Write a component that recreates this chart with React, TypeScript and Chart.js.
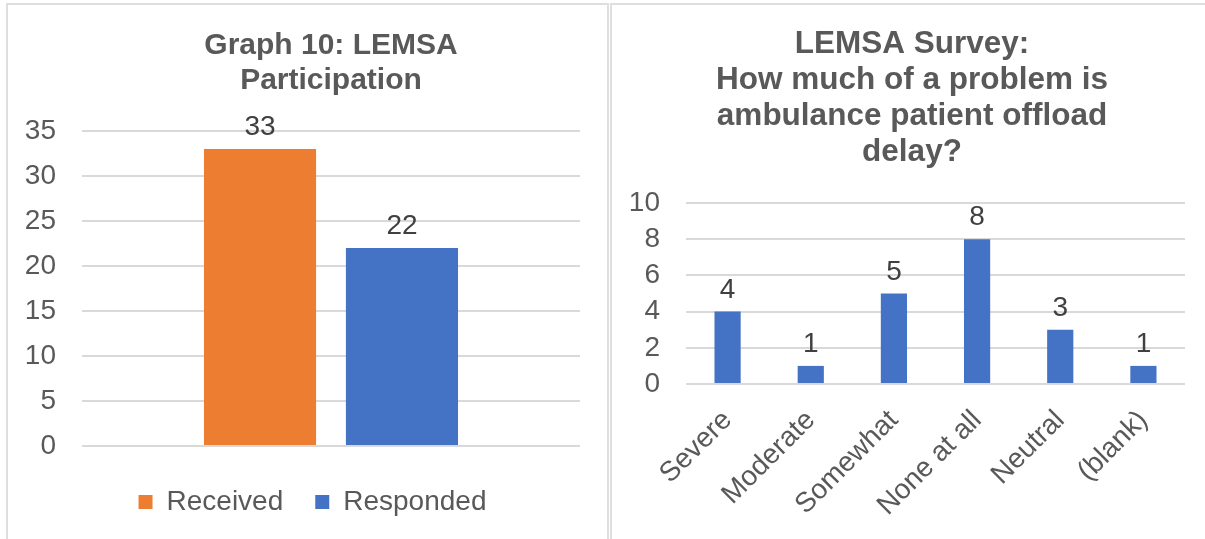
import React, { useEffect, useRef } from "react";
import { Chart, registerables } from "chart.js";

Chart.register(...registerables);

const FONT = '"Liberation Sans", Arial, Helvetica, sans-serif';
const TITLE_COLOR = "#595959";
const TICK_COLOR = "#595959";
const LABEL_COLOR = "#404040";
const GRID_COLOR = "#d9d9d9";

// ---- Left chart: Graph 10 ----
const participationTitle = ["Graph 10: LEMSA", "Participation"];
const participationCategories = [""];
const participationSeries = ["Received", "Responded"];
const receivedValues = [33];
const respondedValues = [22];
const participationColors = ["#ED7D31", "#4472C4"];
const participationYTicks = [0, 5, 10, 15, 20, 25, 30, 35];

// ---- Right chart: LEMSA Survey ----
const offloadTitle = [
  "LEMSA Survey:",
  "How much of a problem is",
  "ambulance patient offload",
  "delay?",
];
const offloadCategories = ["Severe", "Moderate", "Somewhat", "None at all", "Neutral", "(blank)"];
const offloadCounts = [4, 1, 5, 8, 3, 1];
const offloadColor = "#4472C4";
const offloadYTicks = [0, 2, 4, 6, 8, 10];

const valueLabelPlugin = {
  id: "valueLabels",
  afterDatasetsDraw(chart: any) {
    const ctx = chart.ctx;
    ctx.save();
    ctx.font = `28px ${FONT}`;
    ctx.fillStyle = LABEL_COLOR;
    ctx.textAlign = "center";
    ctx.textBaseline = "alphabetic";
    chart.data.datasets.forEach((ds: any, i: number) => {
      const meta = chart.getDatasetMeta(i);
      meta.data.forEach((el: any, j: number) => {
        ctx.fillText(String(ds.data[j]), el.x, el.y - 14);
      });
    });
    ctx.restore();
  },
};

// an empty right-hand axis used only as a margin, so that full-width boxes stay centred
const spacerAxis = (w: number) => ({
  position: "right",
  display: true,
  grid: { display: false, drawTicks: false },
  border: { display: false },
  ticks: { display: false },
  afterFit: (s: any) => {
    s.width = w;
  },
});

function ChartCanvas({ config, style, width, height }: any) {
  const ref = useRef<HTMLCanvasElement | null>(null);
  useEffect(() => {
    if (!ref.current) return;
    const chart = new Chart(ref.current, config);
    return () => chart.destroy();
  }, []);
  return (
    <canvas
      ref={ref}
      width={width}
      height={height}
      style={{ position: "absolute", width, height, ...style }}
    />
  );
}

export default function App() {
  const leftStep = participationYTicks[1] - participationYTicks[0];
  const rightStep = offloadYTicks[1] - offloadYTicks[0];

  const leftConfig: any = {
    type: "bar",
    data: {
      labels: participationCategories,
      datasets: [
        {
          label: participationSeries[0],
          data: receivedValues,
          backgroundColor: participationColors[0],
          categoryPercentage: 0.57,
          barPercentage: 0.79,
        },
        {
          label: participationSeries[1],
          data: respondedValues,
          backgroundColor: participationColors[1],
          categoryPercentage: 0.57,
          barPercentage: 0.79,
        },
      ],
    },
    options: {
      animation: false,
      responsive: false,
      maintainAspectRatio: false,
      layout: { padding: 0 },
      plugins: {
        title: {
          display: true,
          text: participationTitle,
          fullSize: false,
          color: TITLE_COLOR,
          font: { family: FONT, size: 30, weight: "bold", lineHeight: 35 / 30 },
          padding: { top: 24, bottom: 33 },
        },
        legend: {
          position: "bottom",
          labels: {
            boxWidth: 14,
            boxHeight: 14,
            padding: 32,
            color: TICK_COLOR,
            font: { family: FONT, size: 28 },
          },
        },
        tooltip: { enabled: false },
      },
      scales: {
        x: {
          grid: { display: false, drawTicks: false },
          border: { display: false },
          ticks: { display: false },
          afterFit: (s: any) => {
            s.height = 10;
          },
        },
        y: {
          min: participationYTicks[0],
          max: participationYTicks[participationYTicks.length - 1],
          ticks: {
            stepSize: leftStep,
            autoSkip: false,
            color: TICK_COLOR,
            font: { family: FONT, size: 28 },
            padding: 26,
          },
          grid: { color: GRID_COLOR, lineWidth: 2, drawTicks: false },
          border: { display: false },
          afterFit: (s: any) => {
            s.width = 62;
          },
        },
        yMargin: spacerAxis(25),
      },
    },
    plugins: [valueLabelPlugin],
  };

  const rightConfig: any = {
    type: "bar",
    data: {
      labels: offloadCategories,
      datasets: [
        {
          label: "Count",
          data: offloadCounts,
          backgroundColor: offloadColor,
          categoryPercentage: 1,
          barPercentage: 0.315,
        },
      ],
    },
    options: {
      animation: false,
      responsive: false,
      maintainAspectRatio: false,
      layout: { padding: 0 },
      plugins: {
        title: {
          display: true,
          text: offloadTitle,
          color: TITLE_COLOR,
          font: { family: FONT, size: 31.5, weight: "bold", lineHeight: 36 / 31.5 },
          padding: { top: 22, bottom: 33 },
        },
        legend: { display: false },
        tooltip: { enabled: false },
      },
      scales: {
        x: {
          grid: { display: false, drawTicks: false },
          border: { display: false },
          ticks: {
            color: TICK_COLOR,
            font: { family: FONT, size: 28 },
            maxRotation: 45,
            minRotation: 45,
            padding: 20,
            autoSkip: false,
          },
          afterFit: (s: any) => {
            s.height = 155;
          },
        },
        y: {
          min: offloadYTicks[0],
          max: offloadYTicks[offloadYTicks.length - 1],
          ticks: {
            stepSize: rightStep,
            autoSkip: false,
            color: TICK_COLOR,
            font: { family: FONT, size: 28 },
            padding: 26,
          },
          grid: { color: GRID_COLOR, lineWidth: 2, drawTicks: false },
          border: { display: false },
          afterFit: (s: any) => {
            s.width = 66;
          },
        },
        yMargin: spacerAxis(19),
      },
    },
    plugins: [valueLabelPlugin],
  };

  return (
    <div
      style={{
        position: "fixed",
        left: 0,
        top: 0,
        width: 1205,
        height: 539,
        overflow: "hidden",
        background: "#ffffff",
      }}
    >
      <div
        style={{
          position: "absolute",
          left: 6,
          top: 3,
          width: 603,
          height: 600,
          border: "2px solid #dedede",
          boxSizing: "border-box",
        }}
      />
      <div
        style={{
          position: "absolute",
          left: 610,
          top: 3,
          width: 700,
          height: 600,
          border: "2px solid #dedede",
          boxSizing: "border-box",
        }}
      />
      <ChartCanvas config={leftConfig} width={585} height={522} style={{ left: 20, top: 4 }} />
      <ChartCanvas config={rightConfig} width={584} height={535} style={{ left: 620, top: 4 }} />
    </div>
  );
}
